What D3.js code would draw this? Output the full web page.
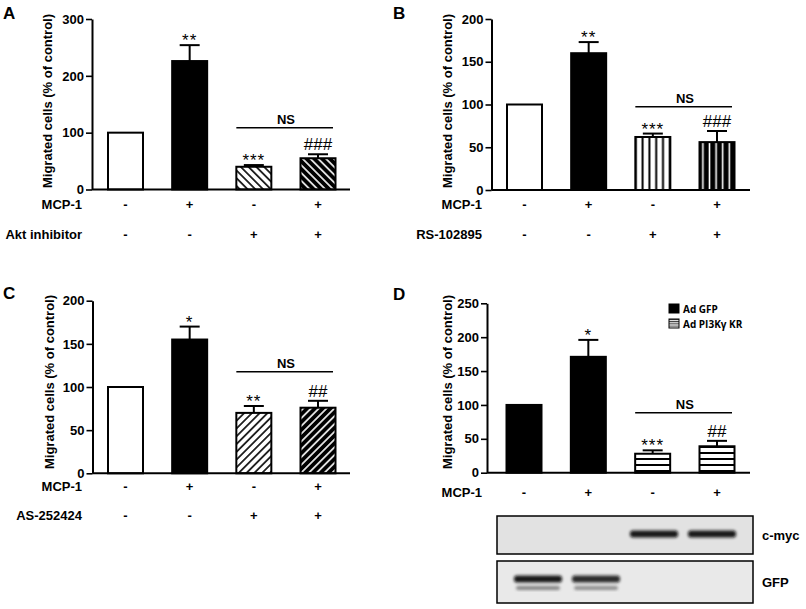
<!DOCTYPE html>
<html><head><meta charset="utf-8">
<script src="https://cdn.jsdelivr.net/npm/d3@7"></script>
<style>body{margin:0;background:#fff} svg{display:block}</style>
</head><body><svg id="c" width="806" height="609"></svg>
<script>
// ---------- data ----------
const categories = ["control","MCP-1","inhibitor","MCP-1 + inhibitor"];
const mcp1Signs = ["-","+","-","+"];
const inhibitorSigns = ["-","-","+","+"];

const valuesA = [100, 226, 40, 55];
const errorsA = [0, 28, 3, 7];
const marksA = ["", "**", "***", "###"];
const ticksA = [0, 100, 200, 300];

const valuesB = [100, 160, 62, 56];
const errorsB = [0, 13, 4, 13];
const marksB = ["", "**", "***", "###"];
const ticksB = [0, 50, 100, 150, 200];

const valuesC = [100, 155, 70, 76];
const errorsC = [0, 15, 8, 8];
const marksC = ["", "*", "**", "##"];
const ticksC = [0, 50, 100, 150, 200];

const valuesD = [100, 171, 28, 39];
const errorsD = [0, 25, 5, 8];
const marksD = ["", "*", "***", "##"];
const ticksD = [0, 50, 100, 150, 200, 250];

const legendD = ["Ad GFP", "Ad PI3K\u03b3 KR"];
const blotLanes = ["lane1","lane2","lane3","lane4"];
const cmycBand = [0, 0, 1, 1];
const gfpBand = [1, 0.9, 0, 0];

// ---------- drawing ----------
const svg = d3.select("#c");
const defs = svg.append("defs");
const FONT = "'Liberation Sans', Arial, sans-serif";

function hatch(id, bg, fg, angle, spacing, sw) {
  const p = defs.append("pattern").attr("id", id)
    .attr("patternUnits", "userSpaceOnUse")
    .attr("width", spacing).attr("height", spacing)
    .attr("patternTransform", `rotate(${angle})`);
  p.append("rect").attr("width", spacing).attr("height", spacing).attr("fill", bg);
  p.append("line").attr("x1", spacing/2).attr("x2", spacing/2)
    .attr("y1", -1).attr("y2", spacing + 1)
    .attr("stroke", fg).attr("stroke-width", sw);
}
hatch("a3", "#fff", "#000", -45, 5.5, 1.6);
hatch("a4", "#000", "#fff", -45, 5.5, 1.6);
hatch("b3", "#fff", "#000", 0, 6.8, 2);
hatch("b4", "#000", "#fff", 0, 6.6, 1.6);
hatch("c3", "#fff", "#000", 45, 5.5, 1.6);
hatch("c4", "#000", "#fff", 45, 5.5, 1.6);
hatch("d", "#fff", "#000", 90, 6, 2);

const blur = defs.append("filter").attr("id", "blur").attr("x", "-20%").attr("y", "-50%").attr("width", "140%").attr("height", "200%");
blur.append("feGaussianBlur").attr("stdDeviation", 1.6);

const panels = [
  { letter: "A", lx: 3, ly: 19, axisX: 92, xEnd: 350, yTop: 19, yBot: 189.5, ticks: ticksA,
    values: valuesA, errors: errorsA, marks: marksA, c0: 125.5, c3: 318,
    fills: ["#fff", "#000", "url(#a3)", "url(#a4)"],
    titleX: 47, titleY: 101, rows: [["MCP-1", mcp1Signs, 208.5], ["Akt inhibitor", inhibitorSigns, 238.5]], rowX: 82, nsY: 127.7 },
  { letter: "B", lx: 393, ly: 19, axisX: 491.5, xEnd: 750, yTop: 19, yBot: 190, ticks: ticksB,
    values: valuesB, errors: errorsB, marks: marksB, c0: 524.5, c3: 717,
    fills: ["#fff", "#000", "url(#b3)", "url(#b4)"],
    titleX: 447, titleY: 101, rows: [["MCP-1", mcp1Signs, 208.5], ["RS-102895", inhibitorSigns, 238.5]], rowX: 482, nsY: 106.7 },
  { letter: "C", lx: 3, ly: 299, axisX: 92.5, xEnd: 350, yTop: 300.7, yBot: 473.3, ticks: ticksC,
    values: valuesC, errors: errorsC, marks: marksC, c0: 125.5, c3: 318,
    fills: ["#fff", "#000", "url(#c3)", "url(#c4)"],
    titleX: 49, titleY: 382, rows: [["MCP-1", mcp1Signs, 491], ["AS-252424", inhibitorSigns, 520]], rowX: 82, nsY: 371.7 },
  { letter: "D", lx: 393, ly: 300, axisX: 487, xEnd: 750, yTop: 303.3, yBot: 472.7, ticks: ticksD,
    values: valuesD, errors: errorsD, marks: marksD, c0: 524, c3: 717,
    fills: ["#000", "#000", "url(#d)", "url(#d)"],
    titleX: 447, titleY: 382, rows: [["MCP-1", mcp1Signs, 496.5]], rowX: 482, nsY: 412.7 }
];

const BW = 35;
panels.forEach(p => {
  const g = svg.append("g");
  const y = d3.scaleLinear().domain([0, d3.max(p.ticks)]).range([p.yBot, p.yTop]);
  const x = d3.scalePoint().domain(d3.range(categories.length)).range([p.c0, p.c3]);

  g.append("text").attr("x", p.lx).attr("y", p.ly).text(p.letter)
    .attr("font-family", FONT).attr("font-weight", "bold").attr("font-size", 17);

  const ax = g.append("g").attr("transform", `translate(${p.axisX},0)`)
    .call(d3.axisLeft(y).tickValues(p.ticks).tickSize(6).tickSizeOuter(0).tickPadding(2));
  ax.select(".domain").attr("stroke-width", 2);
  ax.selectAll(".tick line").attr("stroke-width", 1.6);
  ax.selectAll(".tick text").attr("font-family", FONT).attr("font-weight", "bold").attr("font-size", 13).attr("fill", "#000");

  g.append("text").attr("transform", `translate(${p.titleX},${p.titleY}) rotate(-90)`)
    .attr("text-anchor", "middle").attr("dy", "0.35em")
    .attr("font-family", FONT).attr("font-weight", "bold").attr("font-size", 13)
    .text("Migrated cells (% of control)");

  // bars
  g.selectAll("rect.bar").data(p.values).join("rect").attr("class", "bar")
    .attr("x", (d, i) => x(i) - BW/2).attr("width", BW)
    .attr("y", d => y(d)).attr("height", d => y(0) - y(d))
    .attr("fill", (d, i) => p.fills[i]).attr("stroke", "#000").attr("stroke-width", 2);

  // baseline
  g.append("line").attr("x1", p.axisX).attr("x2", p.xEnd).attr("y1", y(0)).attr("y2", y(0))
    .attr("stroke", "#000").attr("stroke-width", 2);

  // error bars
  p.values.forEach((v, i) => {
    if (!p.errors[i]) return;
    const xc = x(i);
    g.append("line").attr("x1", xc).attr("x2", xc).attr("y1", y(v)).attr("y2", y(v + p.errors[i]))
      .attr("stroke", "#000").attr("stroke-width", 2);
    g.append("line").attr("x1", xc - 10).attr("x2", xc + 10).attr("y1", y(v + p.errors[i])).attr("y2", y(v + p.errors[i]))
      .attr("stroke", "#000").attr("stroke-width", 2);
    const m = p.marks[i];
    g.append("text").attr("x", xc).attr("y", y(v + p.errors[i]) + (m.includes("#") ? -4 : 1))
      .attr("text-anchor", "middle").attr("font-family", FONT).attr("font-size", 17)
      .attr("letter-spacing", m.includes("*") ? 1 : 0)
      .text(m);
  });

  // NS bracket
  g.append("line").attr("x1", x(2) - BW/2).attr("x2", x(3) + 15).attr("y1", p.nsY).attr("y2", p.nsY)
    .attr("stroke", "#000").attr("stroke-width", 1.5);
  g.append("text").attr("x", (x(2) + x(3)) / 2).attr("y", p.nsY - 4).attr("text-anchor", "middle")
    .attr("font-family", FONT).attr("font-weight", "bold").attr("font-size", 13).text("NS");

  // treatment rows
  p.rows.forEach(([label, signs, yy]) => {
    g.append("text").attr("x", p.rowX).attr("y", yy).attr("text-anchor", "end")
      .attr("font-family", FONT).attr("font-weight", "bold").attr("font-size", 13).text(label);
    g.selectAll(null).data(signs).join("text")
      .attr("x", (d, i) => x(i)).attr("y", yy).attr("text-anchor", "middle")
      .attr("font-family", FONT).attr("font-weight", "bold").attr("font-size", 13).text(d => d);
  });
});

// legend for D
const lp = defs.append("pattern").attr("id", "lgd").attr("patternUnits", "userSpaceOnUse").attr("width", 4).attr("height", 2.2);
lp.append("rect").attr("width", 4).attr("height", 2.2).attr("fill", "#fff");
lp.append("rect").attr("y", 0).attr("width", 4).attr("height", 1).attr("fill", "#333");
const lg = svg.append("g");
legendD.forEach((t, i) => {
  const yy = 304 + i * 15;
  lg.append("rect").attr("x", 669).attr("y", yy).attr("width", 10).attr("height", 9)
    .attr("fill", i === 0 ? "#000" : "url(#lgd)").attr("stroke", "#000").attr("stroke-width", 1);
  lg.append("text").attr("x", 683).attr("y", yy + 8.5).attr("font-family", "'Open Sans', sans-serif")
    .attr("font-weight", 700).attr("font-size", 10).text(t);
});

// western blot
const lane = d3.scalePoint().domain(blotLanes).range([538, 712]);
const blots = [
  { name: "c-myc", y0: 516, y1: 554, bandY: 534, bands: cmycBand, bg: "#e2e2e2", lower: false },
  { name: "GFP", y0: 561, y1: 603, bandY: 579, bands: gfpBand, bg: "#e9e9e9", lower: true }
];
blots.forEach(b => {
  svg.append("rect").attr("x", 497).attr("y", b.y0).attr("width", 256).attr("height", b.y1 - b.y0)
    .attr("fill", b.bg).attr("stroke", "#000").attr("stroke-width", 1.5);
  blotLanes.forEach((l, i) => {
    const s = b.bands[i];
    if (!s) return;
    svg.append("rect").attr("x", lane(l) - 24).attr("y", b.bandY - 3.5).attr("width", 48).attr("height", 7)
      .attr("rx", 3).attr("fill", "#111").attr("opacity", 0.85 * s + 0.1).attr("filter", "url(#blur)");
    if (b.lower) {
      svg.append("rect").attr("x", lane(l) - 22).attr("y", b.bandY + 7).attr("width", 44).attr("height", 4)
        .attr("rx", 2).attr("fill", "#333").attr("opacity", 0.55 * s).attr("filter", "url(#blur)");
    }
  });
  svg.append("text").attr("x", 762).attr("y", (b.y0 + b.y1) / 2 + 5)
    .attr("font-family", FONT).attr("font-weight", "bold").attr("font-size", 13).text(b.name);
});
</script></body></html>
